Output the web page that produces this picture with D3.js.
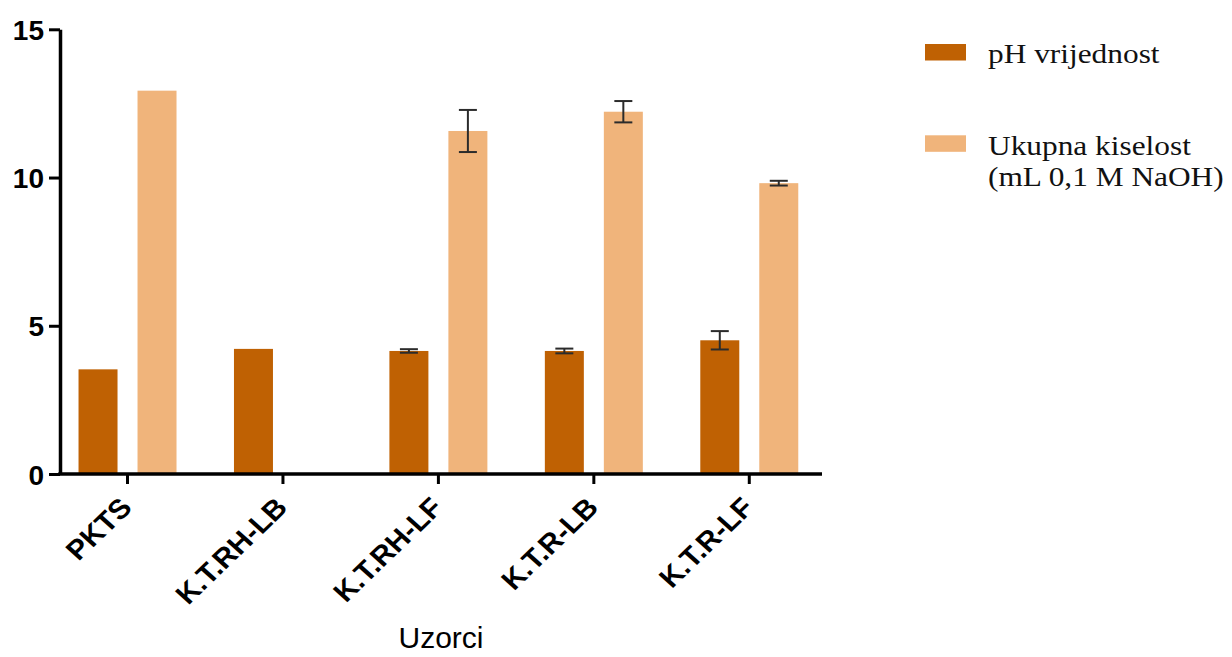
<!DOCTYPE html>
<html>
<head>
<meta charset="utf-8">
<script src="https://cdn.jsdelivr.net/npm/d3@7"></script>
<style>
  html, body { margin: 0; padding: 0; background: #fff; }
  svg { display: block; }
</style>
</head>
<body>
<svg id="chart" width="1232" height="657"></svg>
<script>
// ---- data ----
const categories = ["PKTS", "K.T.RH-LB", "K.T.RH-LF", "K.T.R-LB", "K.T.R-LF"];
const seriesNames = ["pH vrijednost", "Ukupna kiselost\n(mL 0,1 M NaOH)"];
const phValues = [3.53, 4.22, 4.15, 4.15, 4.51];
const phErrors = [0, 0, 0.06, 0.08, 0.31];
const acidValues = [12.93, null, 11.57, 12.22, 9.81];
const acidErrors = [0, 0, 0.71, 0.36, 0.08];
const yTicks = [0, 5, 10, 15];
const xTitle = "Uzorci";
const colors = ["#BF6103", "#F0B47B"];

const svg = d3.select("#chart");

const y = d3.scaleLinear().domain([0, 15]).range([474, 29.3]);
const x0 = d3.scaleBand().domain(categories).range([49.8, 827]).padding(0);
const x1 = d3.scaleBand().domain([0, 1]).range([0, x0.bandwidth()])
  .paddingInner(0.339).paddingOuter(0.487);

const rows = categories.map((c, i) => ({
  cat: c,
  vals: [
    { s: 0, v: phValues[i], e: phErrors[i] },
    { s: 1, v: acidValues[i], e: acidErrors[i] }
  ]
}));

// bars
const g = svg.append("g");
const groups = g.selectAll("g.cat").data(rows).join("g")
  .attr("transform", d => `translate(${x0(d.cat)},0)`);

groups.selectAll("rect").data(d => d.vals.filter(v => v.v != null)).join("rect")
  .attr("x", d => x1(d.s))
  .attr("width", x1.bandwidth())
  .attr("y", d => y(d.v))
  .attr("height", d => y(0) - y(d.v))
  .attr("fill", d => colors[d.s]);

// error bars
const eb = groups.selectAll("g.err").data(d => d.vals.filter(v => v.v != null && v.e > 0)).join("g")
  .attr("stroke", "#2b2b2b").attr("stroke-width", 2);
eb.append("line")
  .attr("x1", d => x1(d.s) + x1.bandwidth() / 2)
  .attr("x2", d => x1(d.s) + x1.bandwidth() / 2)
  .attr("y1", d => y(d.v + d.e)).attr("y2", d => y(d.v - d.e));
[1, -1].forEach(sg => {
  eb.append("line")
    .attr("x1", d => x1(d.s) + x1.bandwidth() / 2 - 9)
    .attr("x2", d => x1(d.s) + x1.bandwidth() / 2 + 9)
    .attr("y1", d => y(d.v + sg * d.e)).attr("y2", d => y(d.v + sg * d.e));
});

// y axis
const yAxis = d3.axisLeft(y).tickValues(yTicks).tickSize(11).tickPadding(5).tickSizeOuter(0);
const yg = svg.append("g").attr("transform", "translate(60,0)").call(yAxis);
yg.select(".domain").attr("stroke", "#000").attr("stroke-width", 3.5);
yg.selectAll(".tick line").attr("stroke", "#000").attr("stroke-width", 3);
yg.selectAll(".tick text")
  .attr("font-family", "Liberation Sans, Arial, sans-serif")
  .attr("font-weight", "bold").attr("font-size", 28).attr("fill", "#000")
  .attr("dy", "0.36em");

// x axis
const xAxis = d3.axisBottom(x0).tickSize(10).tickSizeOuter(0).tickFormat("");
const xg = svg.append("g").attr("transform", "translate(0,474)").call(xAxis);
xg.select(".domain").remove();
xg.append("line").attr("x1", 58.3).attr("x2", 822).attr("y1", 0).attr("y2", 0)
  .attr("stroke", "#000").attr("stroke-width", 3.5);
xg.selectAll(".tick line").attr("stroke", "#000").attr("stroke-width", 3);

// x labels
svg.append("g").selectAll("text").data(categories).join("text")
  .attr("transform", d => `translate(${x0(d) + x0.bandwidth() / 2 + 6},${509}) scale(1.08,1) rotate(-46)`)
  .attr("text-anchor", "end")
  .attr("font-family", "Liberation Sans, Arial, sans-serif")
  .attr("font-weight", "bold").attr("font-size", 27.5).attr("fill", "#000")
  .text(d => d);

// x title
svg.append("text").attr("x", 441).attr("y", 648).attr("text-anchor", "middle")
  .attr("font-family", "Liberation Sans, Arial, sans-serif")
  .attr("font-size", 30).attr("fill", "#000").text(xTitle);

// legend
const legendY = [44, 135.3];
const lg = svg.append("g");
seriesNames.forEach((name, i) => {
  lg.append("rect").attr("x", 925).attr("y", legendY[i]).attr("width", 41).attr("height", 16.5)
    .attr("fill", colors[i]);
  name.split("\n").forEach((line, j) => {
    lg.append("text")
      .attr("transform", `translate(988,${legendY[i] + 19.3 + j * 31.5}) scale(1.12,1)`)
      .attr("font-family", "Liberation Serif, Times New Roman, serif")
      .attr("font-size", 28).attr("fill", "#111")
      .text(line);
  });
});
</script>
</body>
</html>
